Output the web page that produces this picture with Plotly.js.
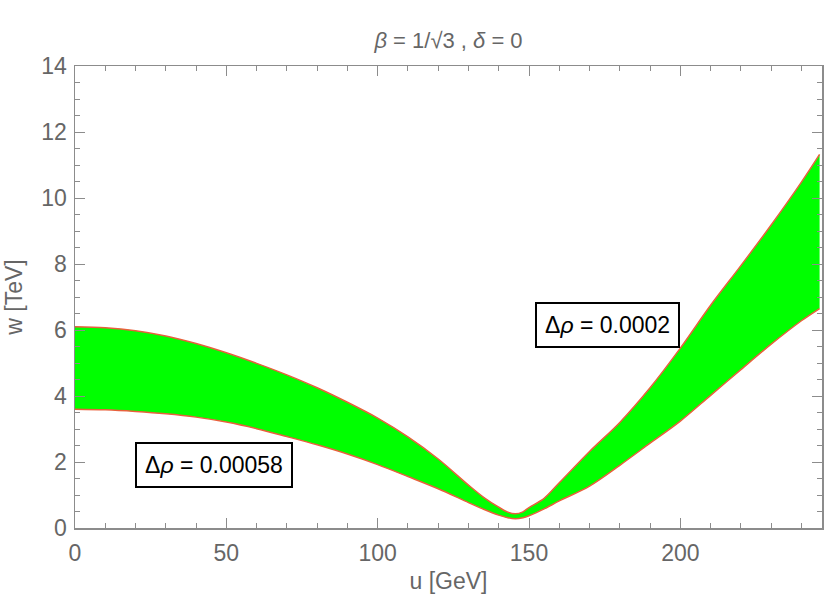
<!DOCTYPE html>
<html>
<head>
<meta charset="utf-8">
<script src="https://cdn.plot.ly/plotly-3.0.1.min.js"></script>
<style>html,body{margin:0;padding:0;background:#fff;}#chart{width:825px;height:609px;}</style>
</head>
<body>
<div id="chart"></div>
<script>
const uVals  = [0, 10, 20, 30, 40, 50, 60, 70, 80, 90, 100, 110, 120, 130, 135, 140, 143, 145.5, 148, 150, 155, 160, 170, 180, 190, 200, 210, 220, 230, 240, 246];
const wUpper = [6.10, 6.07, 5.98, 5.82, 5.59, 5.31, 4.99, 4.64, 4.25, 3.81, 3.33, 2.76, 2.09, 1.30, 0.93, 0.63, 0.48, 0.43, 0.49, 0.62, 0.90, 1.37, 2.32, 3.20, 4.25, 5.45, 6.75, 7.95, 9.18, 10.48, 11.32];
const wLower = [3.60, 3.58, 3.53, 3.46, 3.36, 3.21, 3.01, 2.77, 2.52, 2.24, 1.92, 1.56, 1.19, 0.77, 0.57, 0.39, 0.31, 0.28, 0.31, 0.37, 0.58, 0.82, 1.27, 1.90, 2.57, 3.24, 4.02, 4.80, 5.57, 6.28, 6.65];
const labelTexts = ["Δ<i>ρ</i> = 0.0002", "Δ<i>ρ</i> = 0.00058"];
const labelU = [175.8, 45.9];
const labelW = [6.15, 1.91];

const grey = '#666666';
const frame = '#8c8c8c';
const edge = '#e8603c';
const tickFont = {family: '"Liberation Sans Narrow", "Liberation Sans", Arial, sans-serif', size: 23, color: grey};

const traces = [
  {x: uVals, y: wLower, type: 'scatter', mode: 'lines', line: {color: edge, width: 1.5, shape: 'spline', smoothing: 0.9}, hoverinfo: 'skip', showlegend: false},
  {x: uVals, y: wUpper, type: 'scatter', mode: 'lines', fill: 'tonexty', fillcolor: '#00ff00', line: {color: edge, width: 1.5, shape: 'spline', smoothing: 0.9}, hoverinfo: 'skip', showlegend: false}
];

const annotations = labelTexts.map((t, i) => ({
  x: labelU[i], y: labelW[i], xref: 'x', yref: 'y', text: t, showarrow: false,
  font: {family: '"Liberation Sans", Arial, sans-serif', size: 23, color: '#000'},
  bgcolor: '#ffffff', bordercolor: '#000000', borderwidth: 2, borderpad: 8
}));

const layout = {
  width: 825, height: 609,
  margin: {l: 75, r: 3, t: 66, b: 81},
  paper_bgcolor: '#fff', plot_bgcolor: '#fff',
  title: {text: '<i>β</i> = 1/√3 , <i>δ</i> = 0', x: 0.5, xref: 'paper', xanchor: 'center', y: 1 - 40/609, yref: 'container', yanchor: 'middle',
          font: {family: tickFont.family, size: 22, color: grey}},
  xaxis: {range: [0, 246.8], tickvals: [0, 50, 100, 150, 200], ticks: 'inside', ticklen: 10, tickcolor: frame, tickwidth: 1,
          minor: {dtick: 10, tick0: 0, ticks: 'inside', ticklen: 5, tickcolor: frame},
          showline: true, linecolor: frame, linewidth: 1.5, mirror: 'allticks', showgrid: false, zeroline: false,
          tickfont: tickFont, ticklabelstandoff: 4,
          title: {text: 'u [GeV]', font: tickFont, standoff: 8}},
  yaxis: {range: [0, 14], dtick: 2, ticks: 'inside', ticklen: 10, tickcolor: frame, tickwidth: 1,
          minor: {dtick: 0.5, ticks: 'inside', ticklen: 5, tickcolor: frame},
          showline: true, linecolor: frame, linewidth: 1.5, mirror: 'allticks', showgrid: false, zeroline: false,
          tickfont: tickFont, ticklabelstandoff: 2,
          title: {text: 'w [TeV]', font: tickFont, standoff: 12}},
  annotations: annotations
};

Plotly.newPlot('chart', traces, layout, {displayModeBar: false, staticPlot: true});
</script>
</body>
</html>
